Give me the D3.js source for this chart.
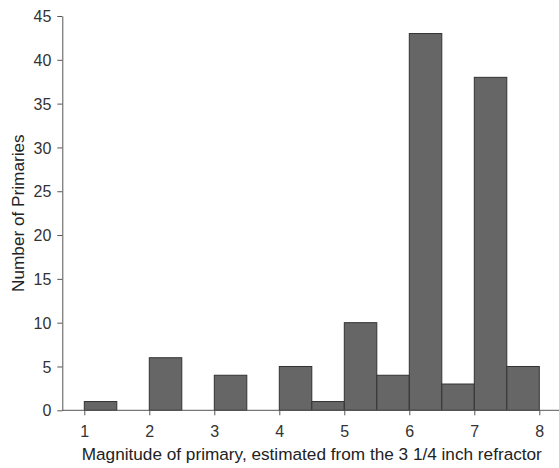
<!DOCTYPE html>
<html><head><meta charset="utf-8">
<script src="https://cdn.jsdelivr.net/npm/d3@7"></script>
<style>body{margin:0;background:#fff;} text{font-family:Arial,"Liberation Sans",sans-serif;}</style>
</head><body>
<script>
const binStarts = [1,1.5,2,2.5,3,3.5,4,4.5,5,5.5,6,6.5,7,7.5];
const binWidth = 0.5;
const counts = [1,0,6,0,4,0,5,1,10,4,43,3,38,5];
const xTicks = [1,2,3,4,5,6,7,8];
const yTicks = [0,5,10,15,20,25,30,35,40,45];

const W=559,H=468;
const svg=d3.select("body").append("svg").attr("width",W).attr("height",H);
const x=d3.scaleLinear().domain([1,8]).range([84.3,539.3]);
const y=d3.scaleLinear().domain([0,45]).range([410.3,16]);
const axL=62.3, axR=559;

svg.append("g").selectAll("rect").data(binStarts.map((s,i)=>({s,c:counts[i]})).filter(d=>d.c>0))
 .join("rect")
 .attr("x",d=>x(d.s)).attr("width",d=>x(d.s+binWidth)-x(d.s))
 .attr("y",d=>y(d.c)).attr("height",d=>y(0)-y(d.c))
 .attr("fill","#666").attr("stroke","#333").attr("stroke-width",1);

const xa=svg.append("g").attr("transform",`translate(0,${y(0)})`)
 .call(d3.axisBottom(x).tickValues(xTicks).tickFormat(d3.format("d")).tickSize(5).tickSizeOuter(0));
xa.select(".domain").attr("d",`M${axL},0H${axR}`);
const ya=svg.append("g").attr("transform",`translate(${axL},0)`)
 .call(d3.axisLeft(y).tickValues(yTicks).tickSize(5).tickSizeOuter(0));
[xa,ya].forEach(a=>{a.selectAll("path,line").attr("stroke","#555");
 a.selectAll("text").attr("fill","#333").style("font-size","16px");});
xa.selectAll("text").attr("dy","0").attr("y",27);
ya.selectAll("text").attr("x",-11).attr("dy","0.35em");

svg.append("text").attr("x",(x(1)+x(8))/2).attr("y",460).attr("text-anchor","middle")
 .attr("fill","#222").style("font-size","17.2px").text("Magnitude of primary, estimated from the 3 1/4 inch refractor");
svg.append("text").attr("transform",`translate(24,${(y(0)+y(45))/2}) rotate(-90)`).attr("text-anchor","middle")
 .attr("fill","#222").style("font-size","17.2px").text("Number of Primaries");
</script>
</body></html>
